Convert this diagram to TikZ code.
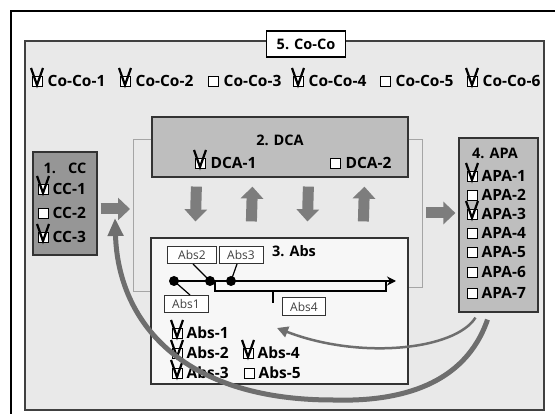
\documentclass[tikz,border=0pt]{standalone}
\usepackage{fontspec}
\setmainfont{Open Sans}
\usepackage{tikz}
\usetikzlibrary{positioning,arrows.meta}

\definecolor{panelgray}{RGB}{233,233,233}
\definecolor{ccgray}{RGB}{150,150,150}
\definecolor{boxgray}{RGB}{190,190,190}
\definecolor{arrgray}{RGB}{125,125,125}
\definecolor{curvegray}{RGB}{110,110,110}
\definecolor{brkgray}{RGB}{165,165,165}

\tikzset{
  grp/.style={draw=black!80, line width=1.2pt, inner sep=0pt},
  cb/.style={draw=black, fill=white, line width=0.9pt, minimum size=10pt, inner sep=0pt},
  itm/.style={font=\bfseries\fontsize{15.5}{16}\selectfont, inner sep=0pt},
  ttl/.style={font=\bfseries\fontsize{14.5}{15}\selectfont, inner sep=1pt},
  tag/.style={draw=black!80, fill=white, line width=1pt, font=\fontsize{12}{12}\selectfont,
    text=black!75, inner sep=0pt, minimum height=17pt},
  vmark/.style={line width=2.2pt, line join=miter},
  blk/.style={draw=arrgray, line width=11pt, -{Triangle[length=12pt,width=22pt]}},
  brk/.style={draw=brkgray, line width=1.5pt},
  dot/.style={circle, fill=black, minimum size=10pt, inner sep=0pt},
}

\newcommand{\tickbox}[1]{%
  \draw[vmark] ([shift={(-6,-13)}]#1.center) -- ([shift={(0,4)}]#1.center)
    -- ([shift={(6,-13)}]#1.center);}

\begin{document}
\begin{tikzpicture}[x=1pt,y=-1pt]
  \useasboundingbox (0,0) rectangle (555,414);
  \fill[white] (0,0) rectangle (555,414);
  \draw[line width=1.2pt] (11,430) -- (11,11) -- (570,11);

  % outer panel
  \node[draw=black!75, fill=panelgray, line width=1.5pt, minimum width=519pt,
    minimum height=369pt, inner sep=0pt] (pan) at (284.5,225.5) {};
  \node[draw=black, fill=white, line width=1.2pt, minimum width=79pt, minimum height=26pt,
    font=\bfseries\fontsize{14.5}{15}\selectfont] (coco) at (306,44) {5. Co-Co};

  % groups
  \node[grp, fill=ccgray, minimum width=64pt, minimum height=103pt] (cc) at (65,203.5) {};
  \node[grp, fill=boxgray, minimum width=256pt, minimum height=60pt] (dca) at (280,147) {};
  \node[grp, fill=white!97!black, minimum width=257pt, minimum height=146pt] (abs) at (279.5,311) {};
  \node[grp, fill=boxgray, minimum width=79pt, minimum height=174pt] (apa) at (498.5,225) {};

  \node[ttl] (ccT) at (65,168) {1.\hspace{12pt}CC};
  \node[ttl] (dcaT) at (280,140) {2. DCA};
  \node[ttl] (absT) at (294,251) {3. Abs};
  \node[ttl] (apaT) at (495,153) {4. APA};

  % brackets and block arrows
  \draw[brk] ([shift={(0,23)}]dca.north west) -- ++(-18,0) |- ([shift={(0,54)}]abs.north west);
  \draw[brk] ([shift={(0,23)}]dca.north east) -- ++(14,0) |- ([shift={(0,50)}]abs.north east);
  \coordinate (lbr) at (134,209);
  \coordinate (rbr) at (422,213);
  \draw[blk] (cc.east |- lbr) ++(3,0) -- ([shift={(-4,0)}]lbr);
  \draw[blk] ([shift={(4,0)}]rbr) -- ([shift={(-3,0)}]apa.west |- rbr);
  \foreach \dx in {45,157}
    \draw[blk] ([shift={(\dx,9)}]dca.south west) -- ([shift={(\dx,-16)}]abs.north west);
  \foreach \dx in {101,213}
    \draw[blk] ([shift={(\dx,-16)}]abs.north west) -- ([shift={(\dx,9)}]dca.south west);

  % check items
  \foreach \i/\x/\k in {1/37/1,2/125/1,3/213/0,4/298/1,5/385/0,6/472/1}{
    \node[cb] (cob\i) at (\x,81) {};
    \node[itm, right=5pt of cob\i] (co\i) {Co-Co-\i};
    \ifnum\k=1 \tickbox{cob\i}\fi
  }
  \foreach \i/\y/\k in {1/189/1,2/213/0,3/237/1}{
    \node[cb] (ccb\i) at (43,\y) {};
    \node[itm, right=4pt of ccb\i] (cc\i) {CC-\i};
    \ifnum\k=1 \tickbox{ccb\i}\fi
  }
  \node[cb] (dcab1) at (200,163) {};
  \node[itm, right=5pt of dcab1] (dca1) {DCA-1};
  \tickbox{dcab1}
  \node[cb] (dcab2) at (335,163) {};
  \node[itm, right=5pt of dcab2] (dca2) {DCA-2};
  \foreach \i/\y/\k in {1/176/1,2/195/0,3/214/1,4/233/0,5/252/0,6/272/0,7/293/0}{
    \node[cb] (apab\i) at (472,\y) {};
    \node[itm, right=4pt of apab\i] (apa\i) {APA-\i};
    \ifnum\k=1 \tickbox{apab\i}\fi
  }
  \foreach \i/\x/\y/\k in {1/177/333/1,2/177/353/1,3/177/373/1,4/248/353/1,5/249/373/0}{
    \node[cb] (absb\i) at (\x,\y) {};
    \node[itm, right=4pt of absb\i] (absi\i) {Abs-\i};
    \ifnum\k=1 \tickbox{absb\i}\fi
  }

  % timeline
  \node[tag, minimum width=49pt] (abs2) at (192,255) {Abs2};
  \node[tag, minimum width=44pt] (abs3) at (241,255) {Abs3};
  \node[tag, minimum width=44pt] (abs1) at (186,304) {Abs1};
  \node[tag, minimum width=43pt, minimum height=18pt] (abs4) at (304,307) {Abs4};
  \node[dot] (d1) at (174,281) {};
  \node[dot] (d2) at (210,281) {};
  \node[dot] (d3) at (231,281) {};
  \coordinate (tend) at (396,281);
  \coordinate (br1) at (215,281);
  \coordinate (br2) at (386,281);
  \coordinate (tk) at (273,291);
  \draw[line width=1.3pt, -{Stealth[length=9pt,width=9pt]}] (d1.center) -- (tend);
  \draw[line width=1.2pt] (br1) -- ++(0,10) -| (br2);
  \draw[line width=1.2pt] (tk) -- ++(0,12);
  \draw[line width=1.2pt] ([shift={(1,0)}]abs2.south) -- (d2.center);
  \draw[line width=1.2pt] ([shift={(-4,0)}]abs3.south) -- (d3.center);
  \draw[line width=1.2pt] (d1.center) -- ([shift={(4,0)}]abs1.north);

  % feedback curves
  \draw[curvegray, line width=5pt, -{Triangle[length=18pt,width=15pt]}]
    ([shift={(-11,7)}]apa.south) .. controls (465,385) and (400,402) .. (333,400)
    .. controls (180,400) and (118,320) .. ([shift={(-19,9)}]lbr);
  \draw[curvegray, line width=2.5pt, -{Triangle[length=11pt,width=11pt]}]
    ([shift={(-23,5)}]apa.south) .. controls (455,350) and (360,360) .. ([shift={(-27,21)}]abs4.center);
\end{tikzpicture}
\end{document}
